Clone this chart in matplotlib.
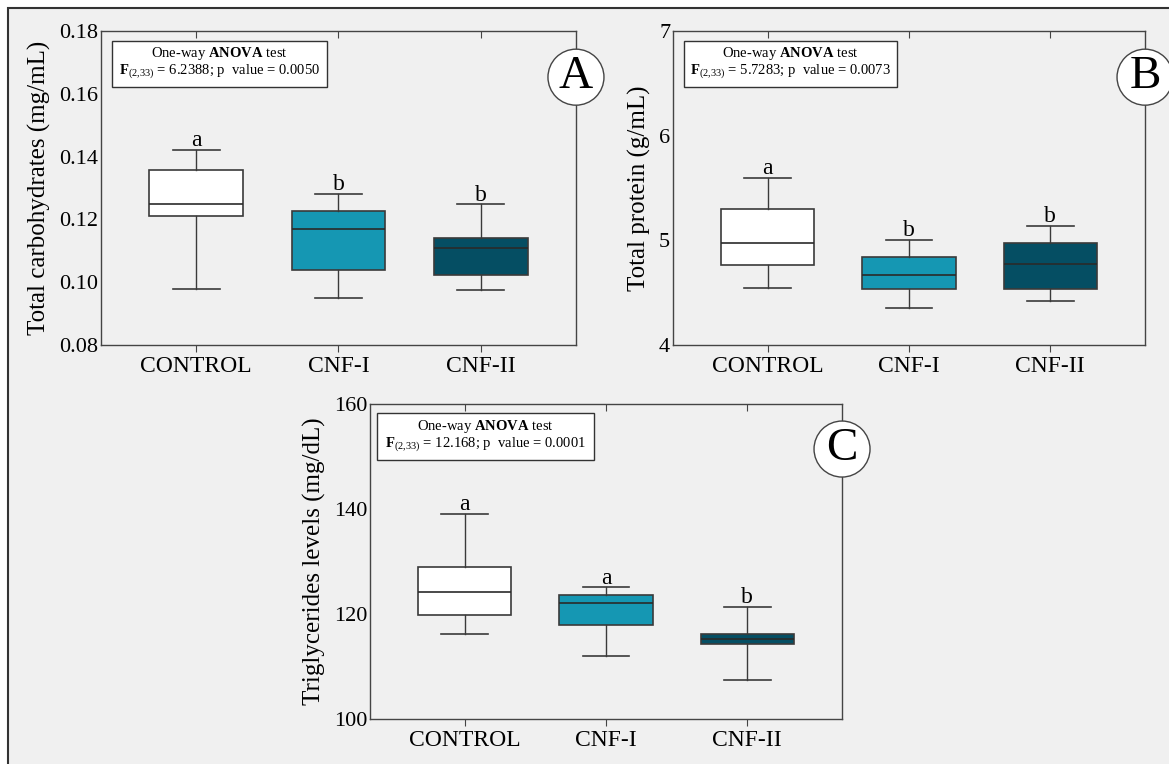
import numpy as np
import matplotlib.pyplot as plt
from matplotlib.patches import Rectangle, Circle
from matplotlib.transforms import ScaledTranslation

plt.rcParams['font.family'] = ['Liberation Serif', 'DejaVu Serif']
plt.rcParams['mathtext.fontset'] = 'custom'
plt.rcParams['mathtext.rm'] = 'Liberation Serif'
plt.rcParams['mathtext.bf'] = 'Liberation Serif:bold'

groups = ['CONTROL', 'CNF-I', 'CNF-II']
box_colors = ['#ffffff', '#1597b3', '#054e63']

# box stats per group: [whisker low, Q1, median, Q3, whisker high]
carbs = [[0.0978, 0.1211, 0.1249, 0.1358, 0.1421],
         [0.0949, 0.1039, 0.1169, 0.1228, 0.1282],
         [0.0974, 0.1022, 0.1108, 0.1142, 0.1248]]
carbs_letters = ['a', 'b', 'b']
carbs_stat = '6.2388; p  value = 0.0050'

protein = [[4.543, 4.769, 4.976, 5.303, 5.596],
           [4.353, 4.538, 4.671, 4.843, 5.008],
           [4.417, 4.538, 4.776, 4.976, 5.138]]
protein_letters = ['a', 'b', 'b']
protein_stat = '5.7283; p  value = 0.0073'

trig = [[116.25, 119.9, 124.25, 128.9, 139.1],
        [112.05, 117.9, 122.1, 123.7, 125.1],
        [107.5, 114.2, 115.3, 116.2, 121.4]]
trig_letters = ['a', 'a', 'b']
trig_stat = '12.168; p  value = 0.0001'


def box_panel(ax, data, letters, stat_line, ylim, yticks, yfmt, ylabel, tag, box_rect, tag_y):
    stats = []
    for name, (lo, q1, med, q3, hi) in zip(groups, data):
        stats.append({'label': name, 'whislo': lo, 'q1': q1, 'med': med, 'q3': q3, 'whishi': hi, 'fliers': []})
    pos = np.arange(1, len(groups) + 1)
    bp = ax.bxp(stats, positions=pos, widths=0.66, capwidths=0.33, patch_artist=True,
                showfliers=False,
                boxprops=dict(edgecolor='#3a3a3a', linewidth=1.2),
                whiskerprops=dict(color='#3a3a3a', linewidth=1.0),
                capprops=dict(color='#3a3a3a', linewidth=1.2),
                medianprops=dict(color='#2a2a2a', linewidth=1.2))
    for patch, c in zip(bp['boxes'], box_colors):
        patch.set_facecolor(c)
    for p, row, let in zip(pos, data, letters):
        ax.annotate(let, (p, row[4]), xytext=(0, -1), textcoords='offset points',
                    ha='center', va='bottom', fontsize=17)

    ax.set_xlim(0.33, 3.67)
    ax.set_ylim(*ylim)
    ax.set_yticks(yticks)
    ax.set_yticklabels([yfmt % v for v in yticks], fontsize=16)
    ax.set_xticks(pos)
    ax.set_xticklabels(groups, fontsize=17)
    ax.set_ylabel(ylabel, fontsize=18, labelpad=6)
    ax.tick_params(axis='y', length=0, pad=2)
    ax.tick_params(axis='x', direction='out', length=5, color='#444444', top=True, pad=3)
    ax.set_facecolor('#f0f0f0')
    for s in ax.spines.values():
        s.set_color('#444444')
        s.set_linewidth(1.0)
    # top ticks point inward
    for t in ax.xaxis.get_major_ticks():
        t.tick2line.set_marker(3)
        t.tick2line.set_markersize(5)

    # ANOVA box
    x0, y0, x1, y1 = box_rect
    ax.add_patch(Rectangle((x0, y0), x1 - x0, y1 - y0, transform=ax.transAxes,
                           facecolor='white', edgecolor='#333333', linewidth=1.0, zorder=5))
    xc = (x0 + x1) / 2
    h = y1 - y0
    ax.text(xc, y1 - h * 0.28, 'One-way $\\mathbf{ANOVA}$ test', transform=ax.transAxes,
            ha='center', va='center', fontsize=10.5, zorder=6)
    ax.text(xc, y0 + h * 0.32, '$\\mathbf{F}_{(2{,}33)}$ = ' + stat_line, transform=ax.transAxes,
            ha='center', va='center', fontsize=10.5, zorder=6)

    # panel tag in circle on right spine
    tr = fig.dpi_scale_trans + ScaledTranslation(1.0, tag_y, ax.transAxes)
    ax.add_artist(Circle((0, 0), 0.28, transform=tr, facecolor='white',
                         edgecolor='#444444', linewidth=1.0, zorder=10, clip_on=False))
    ax.text(1.0, tag_y, tag, transform=ax.transAxes, ha='center', va='center',
            fontsize=34, zorder=11, clip_on=False)


fig = plt.figure(figsize=(11.69, 7.64), dpi=100)
fig.patch.set_facecolor('#f0f0f0')

axA = fig.add_axes([0.0864, 0.5484, 0.4063, 0.411])
axB = fig.add_axes([0.5757, 0.5484, 0.4038, 0.411])
axC = fig.add_axes([0.3165, 0.0589, 0.4038, 0.4123])

box_panel(axA, carbs, carbs_letters, carbs_stat, (0.08, 0.18),
          [0.08, 0.10, 0.12, 0.14, 0.16, 0.18], '%.2f', 'Total carbohydrates (mg/mL)', 'A',
          (0.023, 0.822, 0.476, 0.968), 0.853)
box_panel(axB, protein, protein_letters, protein_stat, (4, 7),
          [4, 5, 6, 7], '%d', 'Total protein (g/mL)', 'B',
          (0.023, 0.822, 0.475, 0.968), 0.853)
box_panel(axC, trig, trig_letters, trig_stat, (100, 160),
          [100, 120, 140, 160], '%d', 'Triglycerides levels (mg/dL)', 'C',
          (0.015, 0.822, 0.475, 0.971), 0.857)

# white strip on top and left, with dark frame edge
fig.add_artist(Rectangle((0, 1 - 8 / 764), 1, 8 / 764, transform=fig.transFigure,
                         facecolor='white', edgecolor='none', zorder=19))
fig.add_artist(Rectangle((0, 0), 8 / 1169, 1, transform=fig.transFigure,
                         facecolor='white', edgecolor='none', zorder=19))
fig.add_artist(Rectangle((8 / 1169, -0.05), 1.1, 1 - 8 / 764 + 0.05, transform=fig.transFigure,
                         facecolor='none', edgecolor='#333333', linewidth=1.5, zorder=20,
                         clip_on=False))

fig.savefig('out.png', dpi=100, facecolor=fig.get_facecolor())
